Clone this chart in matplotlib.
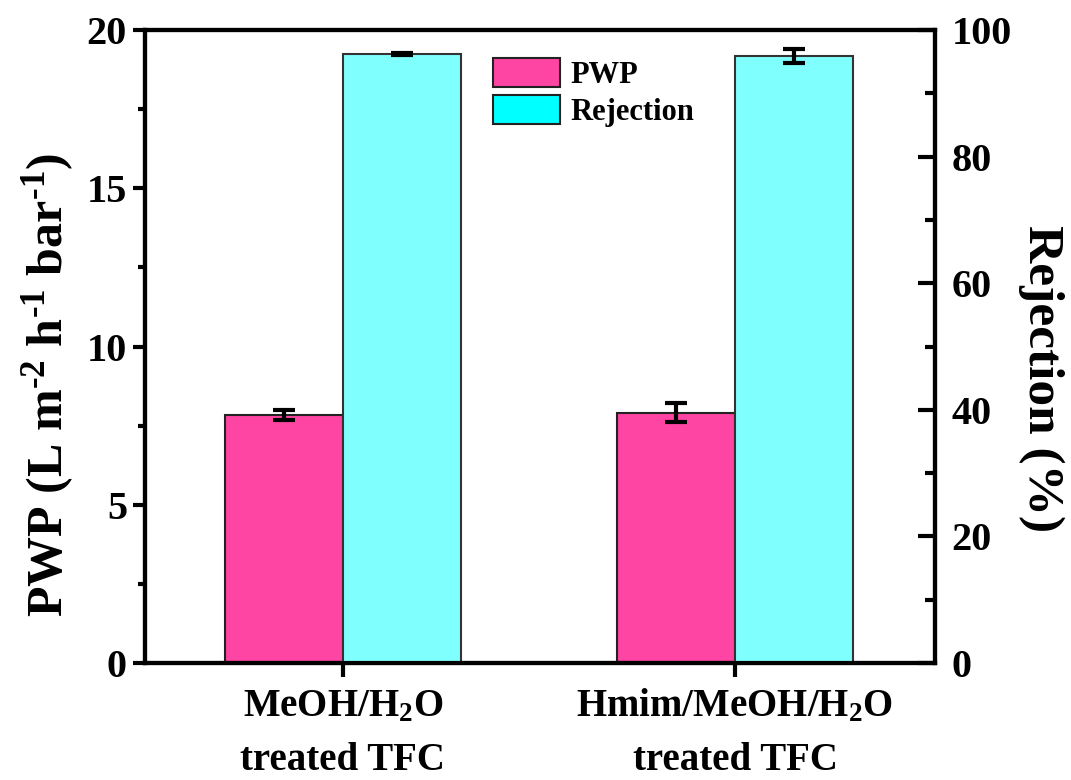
import matplotlib
matplotlib.use('Agg')
import matplotlib.pyplot as plt
from matplotlib.patches import Patch
from matplotlib.ticker import MultipleLocator
import numpy as np

plt.rcParams['font.family'] = ['Liberation Serif', 'DejaVu Serif']
plt.rcParams['font.weight'] = 'bold'
plt.rcParams['axes.labelweight'] = 'bold'
plt.rcParams['mathtext.fontset'] = 'custom'
plt.rcParams['mathtext.rm'] = 'Liberation Serif:bold'
plt.rcParams['mathtext.bf'] = 'Liberation Serif:bold'
plt.rcParams['mathtext.it'] = 'Liberation Serif:bold'
plt.rcParams['mathtext.default'] = 'rm'

categories = ['MeOH/H$_2$O\ntreated TFC', 'Hmim/MeOH/H$_2$O\ntreated TFC']
pwp = [7.84, 7.90]
pwp_err = [0.15, 0.30]
rejection = [96.2, 95.9]
rejection_err = [0.15, 1.1]

pink = '#FF45A3'
cyan_bar = '#80FFFF'
cyan_leg = '#00FFFF'

fig = plt.figure(figsize=(10.71, 7.80), dpi=100)
ax1 = fig.add_axes([0.1354, 0.15, 0.7376, 0.8115])
ax2 = ax1.twinx()

x = np.arange(len(categories))
w = 0.3

ax1.bar(x - w / 2, pwp, w, color=pink, edgecolor='#222222', linewidth=1.5,
        yerr=pwp_err, error_kw=dict(ecolor='black', elinewidth=3, capsize=8, capthick=3), zorder=2)
ax2.bar(x + w / 2, rejection, w, color=cyan_bar, edgecolor='#333333', linewidth=1.5,
        yerr=rejection_err, error_kw=dict(ecolor='black', elinewidth=3, capsize=8, capthick=3), zorder=2)

ax1.set_xlim(-0.505, 1.51)
ax1.set_ylim(0, 20)
ax2.set_ylim(0, 100)

ax1.set_xticks(x)
ax1.set_xticklabels(categories, fontsize=28, linespacing=1.6)
ax1.yaxis.set_major_locator(MultipleLocator(5))
ax1.yaxis.set_minor_locator(MultipleLocator(2.5))
ax2.yaxis.set_major_locator(MultipleLocator(20))
ax2.yaxis.set_minor_locator(MultipleLocator(10))

ax1.tick_params(axis='y', which='major', direction='out', length=9, width=3, labelsize=29, pad=4)
ax1.tick_params(axis='y', which='minor', direction='out', length=5, width=3)
ax1.tick_params(axis='x', which='major', direction='out', length=10, width=3, pad=8)
ax1.tick_params(axis='x', which='minor', bottom=False)
ax2.tick_params(axis='y', which='major', direction='in', length=12, width=3, labelsize=29, pad=12)
ax2.tick_params(axis='y', which='minor', direction='in', length=7, width=3)

for ax in (ax1, ax2):
    for s in ax.spines.values():
        s.set_linewidth(3)

ax1.set_ylabel(r'PWP (L m$^{\text{-2}}$ h$^{\text{-1}}$ bar$^{\text{-1}}$)', fontsize=36,
               fontweight='bold', va='center', ha='center')
ax1.yaxis.set_label_coords(-0.122, 0.44)
ax2.set_ylabel('Rejection (%)', fontsize=37, fontweight='bold', rotation=-90,
               va='center', ha='center')
ax2.yaxis.set_label_coords(1.134, 0.45)

handles = [Patch(facecolor=pink, edgecolor='#222222', linewidth=1.5, label='PWP'),
           Patch(facecolor=cyan_leg, edgecolor='#222222', linewidth=1.5, label='Rejection')]
ax2.legend(handles=handles, loc='upper left', bbox_to_anchor=(0.425, 0.975), frameon=False,
           prop=dict(size=22, weight='bold'), handlelength=2.2, handleheight=1.1,
           labelspacing=0.15, handletextpad=0.35, borderaxespad=0)

fig.savefig('out.png', dpi=100)
